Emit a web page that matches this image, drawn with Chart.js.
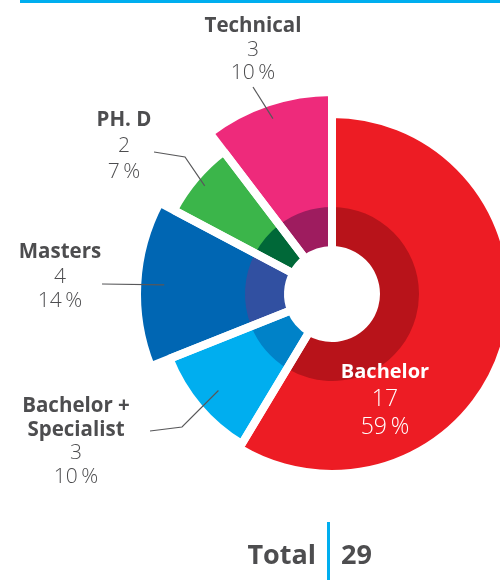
<!DOCTYPE html>
<html lang="en">
<head>
	<meta charset="UTF-8">
	<title>Education</title>
	<style>
		body { margin: 0; background: #fff; }
		#wrap { position: relative; width: 500px; height: 580px; overflow: hidden; }
		#topRule { position: absolute; left: 20px; top: 0; width: 480px; height: 3px; background: #00aeef; }
	</style>
</head>
<body>
	<div id="wrap">
		<canvas id="chartEdu"></canvas>
		<div id="topRule"></div>
	</div>

	<script src="https://cdn.jsdelivr.net/npm/chart.js@4/dist/chart.umd.min.js"></script>
	<script>
		// data, clockwise from 12 o'clock
		const categories = ['Bachelor', ['Bachelor +', 'Specialist'], 'Masters', 'PH. D', 'Technical'];
		const counts = [17, 3, 4, 2, 3];

		const total = counts.reduce((a, b) => a + b, 0);
		const percents = counts.map(v => Math.round(v / total * 100));

		// look
		const outerColors = ['#ed1c24', '#00aeef', '#0066b3', '#3bb54a', '#ee2a7b'];
		const innerColors = ['#b8131a', '#0082c8', '#3150a1', '#006838', '#9e1c5f'];
		const sliceReach = [180, 175, 195, 179, 202]; // decorative radius in px
		const ringReach = 87;
		const holeReach = 48;
		const gapWidth = 8;
		const textColor = '#4d4d4f';

		// label layout, relative to the chart centre
		const labelSpots = [
			{ x: 53, y: 84, gap: 28, color: '#fff', big: true },
			{ x: -256, y: 118, gap: 23.7, tip: 22, path: [[-150, 133], [-182, 137]] },
			{ x: -272, y: -36, gap: 24.5, tip: 23, path: [[-230, -10]] },
			{ x: -208, y: -168, gap: 26, tip: 8, path: [[-147, -137], [-178, -142]] },
			{ x: -79, y: -262, gap: 23.5, tip: 13, path: [[-79, -207]] },
		];

		const sliceAngle = ctx => counts[ctx.dataIndex] / total * 360;

		const sliceLabels = {
			id: 'sliceLabels',
			afterDatasetsDraw(chart) {
				const ctx = chart.ctx;
				const r = chart.scales.r;
				const cx = r.xCenter, cy = r.yCenter;
				const arcs = chart.getDatasetMeta(3).data;
				ctx.save();
				arcs.forEach((arc, i) => {
					const spot = labelSpots[i];
					if (spot.path) {
						const mid = (arc.startAngle + arc.endAngle) / 2;
						const tipR = arc.outerRadius - gapWidth / 2 - spot.tip;
						ctx.beginPath();
						ctx.moveTo(arc.x + Math.cos(mid) * tipR, arc.y + Math.sin(mid) * tipR);
						spot.path.forEach(p => ctx.lineTo(cx + p[0], cy + p[1]));
						ctx.strokeStyle = '#58585a';
						ctx.lineWidth = 1.2;
						ctx.stroke();
					}
					const name = [].concat(categories[i]);
					const lines = name.map(t => ({ t, bold: true }))
						.concat([{ t: String(counts[i]) }, { t: percents[i] + '\u2009%' }]);
					ctx.fillStyle = spot.color || textColor;
					ctx.textAlign = 'center';
					ctx.textBaseline = 'alphabetic';
					lines.forEach((ln, k) => {
						const size = ln.bold ? (spot.big ? 20 : 20.5) : (spot.big ? 23 : 21);
						ctx.font = (ln.bold ? 'bold ' : '300 ') + size + 'px "Open Sans", sans-serif';
						ctx.fillText(ln.t, cx + spot.x, cy + spot.y + k * spot.gap);
					});
				});

				// total
				ctx.fillStyle = textColor;
				ctx.font = 'bold 27px "Open Sans", sans-serif';
				ctx.textAlign = 'right';
				ctx.fillText('Total', 316, 564);
				ctx.textAlign = 'left';
				ctx.fillText(String(total), 341, 564);
				ctx.fillStyle = '#00aeef';
				ctx.fillRect(327, 522, 3, 58);
				ctx.restore();
			}
		};

		new Chart('chartEdu', {
			type: 'polarArea',
			data: {
				labels: categories,
				datasets: [
					{ // white gaps between slices
						data: sliceReach,
						angle: sliceAngle,
						backgroundColor: 'rgba(0,0,0,0)',
						borderColor: '#fff',
						borderWidth: gapWidth,
						clip: false
					},
					{ // centre hole
						data: counts.map(() => holeReach),
						angle: sliceAngle,
						backgroundColor: '#fff',
						borderWidth: 0,
						clip: false
					},
					{ // darker inner ring
						data: counts.map(() => ringReach),
						angle: sliceAngle,
						backgroundColor: innerColors,
						borderWidth: 0,
						clip: false
					},
					{
						data: sliceReach,
						angle: sliceAngle,
						backgroundColor: outerColors,
						borderWidth: 0,
						clip: false
					},
				],
			},
			options: {
				responsive: true,
				maintainAspectRatio: false,
				animation: false,
				layout: { padding: { left: 164, right: 0, top: 126, bottom: 118 } },
				scales: {
					r: { display: false, min: 0, max: 168 }
				},
				plugins: {
					legend: { display: false },
					tooltip: { enabled: false }
				}
			},
			plugins: [sliceLabels]
		});
	</script>
</body>
</html>
